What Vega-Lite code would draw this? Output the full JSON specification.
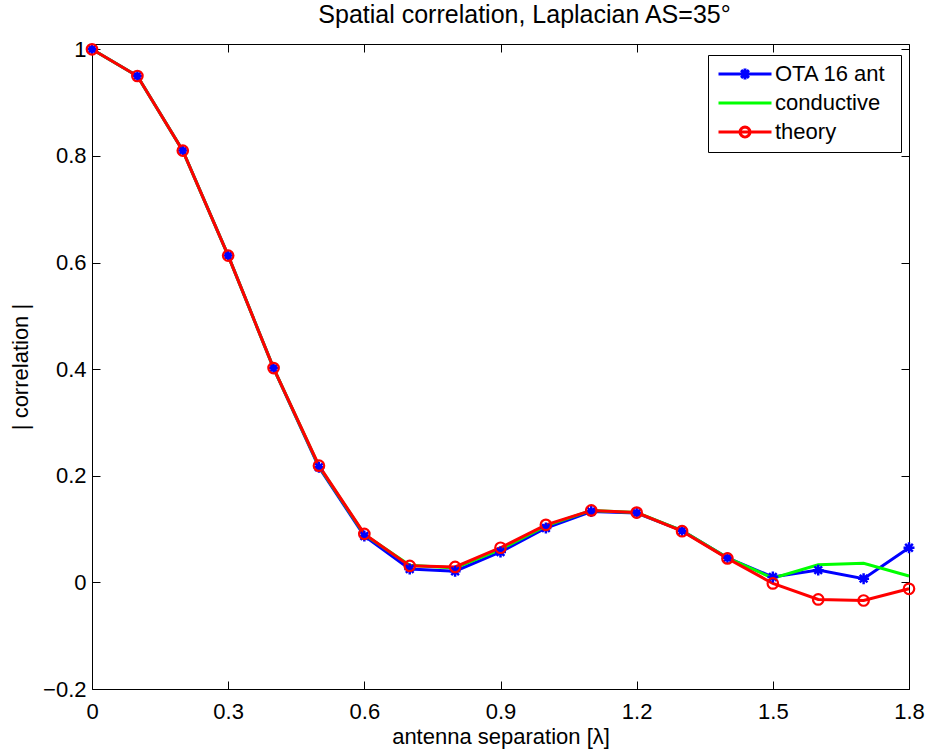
{
  "$schema": "https://vega.github.io/schema/vega-lite/v6.json",
  "width": 817,
  "height": 645,
  "autosize": {"type": "none"},
  "padding": {"left": 92, "top": 44, "right": 34, "bottom": 61},
  "background": "white",
  "title": {"text": "Spatial correlation, Laplacian AS=35°", "fontSize": 25, "font": "Liberation Sans", "fontWeight": "normal", "color": "black", "offset": 10, "dx": 24},
  "config": {
    "view": {"stroke": "black", "strokeWidth": 1},
    "axis": {"grid": false, "domain": false, "labelFont": "Liberation Sans", "titleFont": "Liberation Sans", "labelFontSize": 22, "titleFontSize": 22, "labelColor": "black", "titleColor": "black", "titleFontWeight": "normal", "tickColor": "black", "tickSize": -8, "tickWidth": 1, "labelFlush": false}
  },
  "data": {"values": [
    {"x": 0.0, "series": "OTA 16 ant", "y": 1.0},
    {"x": 0.1, "series": "OTA 16 ant", "y": 0.95},
    {"x": 0.2, "series": "OTA 16 ant", "y": 0.81},
    {"x": 0.3, "series": "OTA 16 ant", "y": 0.613},
    {"x": 0.4, "series": "OTA 16 ant", "y": 0.402},
    {"x": 0.5, "series": "OTA 16 ant", "y": 0.216},
    {"x": 0.6, "series": "OTA 16 ant", "y": 0.087},
    {"x": 0.7, "series": "OTA 16 ant", "y": 0.025},
    {"x": 0.8, "series": "OTA 16 ant", "y": 0.021},
    {"x": 0.9, "series": "OTA 16 ant", "y": 0.057},
    {"x": 1.0, "series": "OTA 16 ant", "y": 0.102},
    {"x": 1.1, "series": "OTA 16 ant", "y": 0.133},
    {"x": 1.2, "series": "OTA 16 ant", "y": 0.130},
    {"x": 1.3, "series": "OTA 16 ant", "y": 0.097},
    {"x": 1.4, "series": "OTA 16 ant", "y": 0.046},
    {"x": 1.5, "series": "OTA 16 ant", "y": 0.010},
    {"x": 1.6, "series": "OTA 16 ant", "y": 0.023},
    {"x": 1.7, "series": "OTA 16 ant", "y": 0.007},
    {"x": 1.8, "series": "OTA 16 ant", "y": 0.065},
    {"x": 0.0, "series": "conductive", "y": 1.0},
    {"x": 0.1, "series": "conductive", "y": 0.95},
    {"x": 0.2, "series": "conductive", "y": 0.81},
    {"x": 0.3, "series": "conductive", "y": 0.613},
    {"x": 0.4, "series": "conductive", "y": 0.402},
    {"x": 0.5, "series": "conductive", "y": 0.218},
    {"x": 0.6, "series": "conductive", "y": 0.090},
    {"x": 0.7, "series": "conductive", "y": 0.032},
    {"x": 0.8, "series": "conductive", "y": 0.027},
    {"x": 0.9, "series": "conductive", "y": 0.062},
    {"x": 1.0, "series": "conductive", "y": 0.106},
    {"x": 1.1, "series": "conductive", "y": 0.135},
    {"x": 1.2, "series": "conductive", "y": 0.131},
    {"x": 1.3, "series": "conductive", "y": 0.097},
    {"x": 1.4, "series": "conductive", "y": 0.046},
    {"x": 1.5, "series": "conductive", "y": 0.008},
    {"x": 1.6, "series": "conductive", "y": 0.033},
    {"x": 1.7, "series": "conductive", "y": 0.036},
    {"x": 1.8, "series": "conductive", "y": 0.012},
    {"x": 0.0, "series": "theory", "y": 1.0},
    {"x": 0.1, "series": "theory", "y": 0.95},
    {"x": 0.2, "series": "theory", "y": 0.81},
    {"x": 0.3, "series": "theory", "y": 0.613},
    {"x": 0.4, "series": "theory", "y": 0.402},
    {"x": 0.5, "series": "theory", "y": 0.219},
    {"x": 0.6, "series": "theory", "y": 0.091},
    {"x": 0.7, "series": "theory", "y": 0.031},
    {"x": 0.8, "series": "theory", "y": 0.029},
    {"x": 0.9, "series": "theory", "y": 0.065},
    {"x": 1.0, "series": "theory", "y": 0.108},
    {"x": 1.1, "series": "theory", "y": 0.135},
    {"x": 1.2, "series": "theory", "y": 0.131},
    {"x": 1.3, "series": "theory", "y": 0.096},
    {"x": 1.4, "series": "theory", "y": 0.045},
    {"x": 1.5, "series": "theory", "y": -0.002},
    {"x": 1.6, "series": "theory", "y": -0.032},
    {"x": 1.7, "series": "theory", "y": -0.034},
    {"x": 1.8, "series": "theory", "y": -0.012}
  ]},
  "layer": [
    {
      "mark": {"type": "line", "strokeWidth": 3},
      "encoding": {
        "x": {"field": "x", "type": "quantitative", "scale": {"domain": [0, 1.8], "nice": false, "zero": false},
              "axis": {"orient": "bottom", "values": [0, 0.3, 0.6, 0.9, 1.2, 1.5, 1.8], "format": "~g", "title": "antenna separation [λ]", "labelPadding": 20, "titlePadding": 4}},
        "y": {"field": "y", "type": "quantitative", "scale": {"domain": [-0.2, 1.01], "nice": false, "zero": false},
              "axis": {"orient": "left", "values": [-0.2, 0, 0.2, 0.4, 0.6, 0.8, 1], "format": "~g", "title": "| correlation |", "labelPadding": 14, "titlePadding": 10}},
        "color": {"field": "series", "type": "nominal",
                  "scale": {"domain": ["OTA 16 ant", "conductive", "theory"], "range": ["#0000ff", "#00ff00", "#ff0000"]},
                  "legend": {"orient": "none", "legendX": 616, "legendY": 11, "title": null, "symbolType": "stroke", "symbolSize": 2809, "symbolStrokeWidth": 3, "strokeColor": "black", "padding": 9, "labelFont": "Liberation Sans", "labelFontSize": 22, "labelColor": "black", "labelOffset": 2, "clipHeight": 20, "rowPadding": 7, "labelExpr": "datum.label + ' \u200b'",
                             "encode": {"symbols": {"update": {"fill": {"value": "transparent"}, "shape": {"signal": "datum.value === 'OTA 16 ant' ? 'M-1,0L1,0M0,-0.2075L0,0.2075M-0.1467,-0.1467L0.1467,0.1467M-0.1467,0.1467L0.1467,-0.1467' : (datum.value === 'theory' ? 'M-1,0L1,0M0.1887,0L0.1743,0.0722L0.1334,0.1334L0.0722,0.1743L0,0.1887L-0.0722,0.1743L-0.1334,0.1334L-0.1743,0.0722L-0.1887,0L-0.1743,-0.0722L-0.1334,-0.1334L-0.0722,-0.1743L0,-0.1887L0.0722,-0.1743L0.1334,-0.1334L0.1743,-0.0722Z' : 'M-1,0L1,0')"}}}}}}
      }
    },
    {
      "transform": [{"filter": "datum.series === 'OTA 16 ant'"}],
      "mark": {"type": "point", "filled": false, "strokeWidth": 2.5, "size": 120, "opacity": 1, "stroke": "#0000ff", "shape": "M-1,0L1,0M0,-1L0,1M-0.7,-0.7L0.7,0.7M-0.7,0.7L0.7,-0.7"},
      "encoding": {
        "x": {"field": "x", "type": "quantitative", "scale": {"domain": [0, 1.8], "nice": false, "zero": false},
              "axis": {"orient": "top", "values": [0, 0.3, 0.6, 0.9, 1.2, 1.5, 1.8], "labels": false, "title": null}},
        "y": {"field": "y", "type": "quantitative", "scale": {"domain": [-0.2, 1.01], "nice": false, "zero": false},
              "axis": {"orient": "right", "values": [-0.2, 0, 0.2, 0.4, 0.6, 0.8, 1], "labels": false, "title": null}}
      }
    },
    {
      "transform": [{"filter": "datum.series === 'theory'"}],
      "mark": {"type": "point", "filled": false, "strokeWidth": 2.2, "size": 110, "opacity": 1, "stroke": "#ff0000", "shape": "circle"},
      "encoding": {
        "x": {"field": "x", "type": "quantitative", "scale": {"domain": [0, 1.8], "nice": false, "zero": false}, "axis": null},
        "y": {"field": "y", "type": "quantitative", "scale": {"domain": [-0.2, 1.01], "nice": false, "zero": false}, "axis": null}
      }
    }
  ],
  "resolve": {"axis": {"x": "independent", "y": "independent"}}
}
